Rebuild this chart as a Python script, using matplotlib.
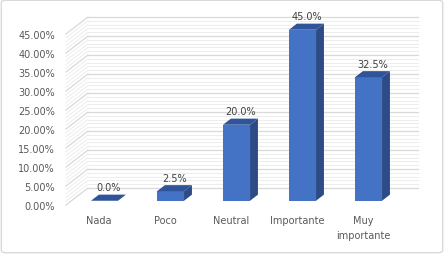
import matplotlib
matplotlib.use("Agg")
import matplotlib.pyplot as plt
from matplotlib.patches import Polygon, FancyBboxPatch
import numpy as np

# Data
categories = ["Nada", "Poco", "Neutral", "Importante", "Muy\nimportante"]
values = [0.0, 2.5, 20.0, 45.0, 32.5]
value_labels = ["0.0%", "2.5%", "20.0%", "45.0%", "32.5%"]
y_ticks = [0, 5, 10, 15, 20, 25, 30, 35, 40, 45]

FRONT = "#4472C4"
SIDE = "#2D4C87"
TOP = "#30549A"
TEXT = "#595959"

W, H = 444, 255
fig = plt.figure(figsize=(W / 100, H / 100), dpi=100)

# front plane of the 3d box, in pixels
left_px, right_px, bottom_px, top_px = 66, 396, 206, 35
ax = fig.add_axes([left_px / W, 1 - bottom_px / H,
                   (right_px - left_px) / W, (bottom_px - top_px) / H])
ax.set_xlim(-0.5, len(categories) - 0.5)
ax.set_ylim(0, 45)
ax.patch.set_alpha(0)
for s in ax.spines.values():
    s.set_visible(False)

# depth of the box in data units
dx = 22 / 66
dy = 17 / 3.8
ymax = 45
xmin, xmax = -0.5, len(categories) - 0.5

# minor + major gridlines on back and side walls
for v in np.arange(0, ymax + 0.01, 1.0):
    major = abs(v % 5) < 1e-6
    col = "#D9D9D9" if major else "#EDEDED"
    lw = 0.9 if major else 0.7
    ax.plot([xmin + dx, xmax + dx], [v + dy, v + dy], color=col, lw=lw,
            clip_on=False, zorder=1)
    ax.plot([xmin, xmin + dx], [v, v + dy], color=col, lw=lw,
            clip_on=False, zorder=1)

# bars
bw = 0.41
f0 = 0.25       # front face depth position
bd = 0.36       # bar depth fraction
for i, v in enumerate(values):
    x0 = i - bw / 2 + f0 * dx
    y0 = f0 * dy
    bdx, bdy = bd * dx, bd * dy
    if v > 0:
        ax.add_patch(Polygon([(x0, y0), (x0 + bw, y0), (x0 + bw, y0 + v), (x0, y0 + v)],
                             closed=True, fc=FRONT, ec="none", clip_on=False, zorder=3))
        ax.add_patch(Polygon([(x0 + bw, y0), (x0 + bw + bdx, y0 + bdy),
                              (x0 + bw + bdx, y0 + v + bdy), (x0 + bw, y0 + v)],
                             closed=True, fc=SIDE, ec="none", clip_on=False, zorder=3))
    ax.add_patch(Polygon([(x0, y0 + v), (x0 + bw, y0 + v),
                          (x0 + bw + bdx, y0 + v + bdy), (x0 + bdx, y0 + v + bdy)],
                         closed=True, fc=TOP, ec="none", clip_on=False, zorder=3))
    ax.text(x0 + bw / 2 + bdx / 2, y0 + v + bdy + 0.6, value_labels[i],
            ha="center", va="bottom", fontsize=7, color="#404040", zorder=4)

ax.set_yticks(y_ticks)
ax.set_yticklabels([f"{t:.2f}%" for t in y_ticks])
ax.set_xticks(range(len(categories)))
ax.set_xticklabels(categories, linespacing=1.6)
ax.tick_params(axis="y", length=0, pad=8, labelsize=7, labelcolor=TEXT)
ax.tick_params(axis="x", length=0, pad=7, labelsize=7, labelcolor=TEXT)

# chart border
fig.patches.append(FancyBboxPatch((0.003, 0.005), 0.994, 0.99,
                                  boxstyle="round,pad=0,rounding_size=0.01",
                                  transform=fig.transFigure, fc="none",
                                  ec="#D9D9D9", lw=1))

fig.savefig("out.png", dpi=100)
